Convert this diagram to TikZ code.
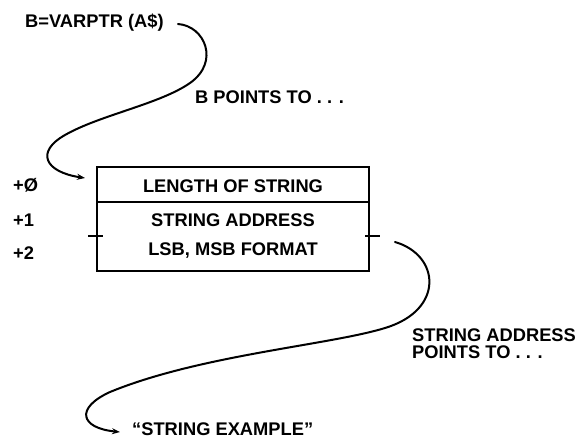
\documentclass[tikz,border=0pt]{standalone}
\usepackage{fontspec}
\setmainfont{Liberation Sans}
\usetikzlibrary{arrows.meta}
\tikzset{
  lbl/.style={font=\bfseries\fontsize{18.3}{17}\selectfont, inner sep=0pt, anchor=west},
  ctr/.style={font=\bfseries\fontsize{18.3}{17}\selectfont, inner sep=0pt},
  ln/.style={line width=2pt, line cap=round},
  arr/.style={ln, -{Stealth[length=8pt,width=6pt]}},
}
\begin{document}
\begin{tikzpicture}[x=1pt,y=-1pt]
\useasboundingbox (0,0) rectangle (579,439);
% box
\node[draw, line width=2pt, minimum width=272pt, minimum height=104pt, inner sep=0pt] (rec) at (233,219) {};
\coordinate (divl) at (97,202);
\coordinate (divr) at (369,202);
\draw[line width=2pt] (divl) -- (divr);
\coordinate (tl1) at (88,236); \coordinate (tl2) at (103,236);
\coordinate (tr1) at (365,236); \coordinate (tr2) at (380,236);
\draw[line width=2pt] (tl1) -- (tl2);
\draw[line width=2pt] (tr1) -- (tr2);
\node[ctr] (len) at (233,186) {LENGTH OF STRING};
\node[ctr] (sadr) at (233,220) {STRING ADDRESS};
\node[ctr] (fmt) at (233,251) {LSB, MSB FORMAT};
% offsets
\node[lbl] (o0) at (13,185) {+Ø};
\node[lbl] (o1) at (13,220) {+1};
\node[lbl] (o2) at (13,253) {+2};
% labels
\node[lbl] (varptr) at (25,23) {B=VARPTR (A\$)};
\node[lbl] (bpts) at (195,97) {B POINTS TO . . .};
\node[lbl, align=left] (sapts) at (412,344) {STRING ADDRESS\\POINTS TO . . .};
\node[lbl] (sex) at (132,429) {``STRING EXAMPLE''};
% connectors
\coordinate (s1) at (178,24);
\coordinate (e1) at (85,178);
\draw[arr] (s1) .. controls (205,26) and (220,62) .. (190,83)
  .. controls (160,104) and (100,115) .. (65,135)
  .. controls (35,152) and (45,172) .. (e1);
\coordinate (s2) at (395,242);
\coordinate (e2) at (120,432);
\draw[arr] (s2) .. controls (440,255) and (445,310) .. (385,328)
  .. controls (330,345) and (200,355) .. (110,392)
  .. controls (75,408) and (80,428) .. (e2);
\end{tikzpicture}
\end{document}
